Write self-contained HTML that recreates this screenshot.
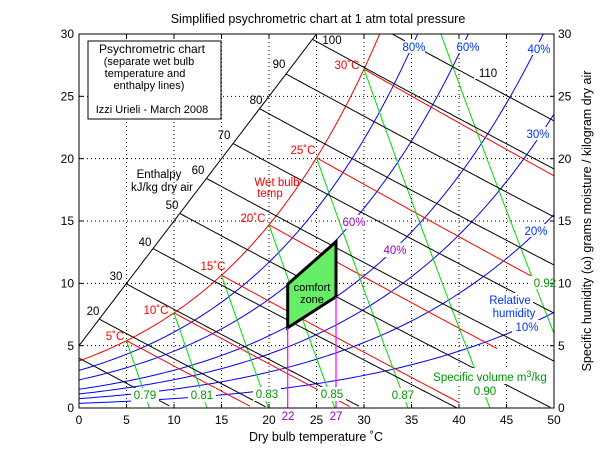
<!DOCTYPE html>
<html><head><meta charset="utf-8"><style>
html,body{margin:0;padding:0;background:#fff;}
svg{display:block;font-family:"Liberation Sans",sans-serif;}
</style></head><body>
<svg id="s" width="615" height="461" viewBox="0 0 615 461" xmlns="http://www.w3.org/2000/svg">
<rect width="615" height="461" fill="#fff"/>
<defs><clipPath id="c"><rect x="79" y="34" width="475" height="374"/></clipPath></defs>
<g id="grid" stroke="#000" stroke-width="1" stroke-dasharray="1,3"></g>
<g id="lines" clip-path="url(#c)" fill="none"></g>
<polygon points="287.7,284.3 336,241.7 336,296.7 287.7,327.7" fill="#66ee66" stroke="#000" stroke-width="3"/>
<line x1="287.7" y1="328" x2="287.7" y2="408" stroke="#ff00ff" stroke-width="1.2"/>
<line x1="336" y1="297" x2="336" y2="408" stroke="#ff00ff" stroke-width="1.2"/>
<g id="bg" fill="#fff"></g>
<rect x="79" y="34" width="475" height="374" fill="none" stroke="#000" stroke-width="1"/>
<g id="ticks" stroke="#000"></g>
<g font-size="12" fill="#000" text-anchor="middle">
<text x="79" y="424">0</text><text x="126.5" y="424">5</text><text x="174" y="424">10</text><text x="221.5" y="424">15</text><text x="269" y="424">20</text><text x="316.5" y="424">25</text><text x="364" y="424">30</text><text x="411.5" y="424">35</text><text x="459" y="424">40</text><text x="506.5" y="424">45</text><text x="554" y="424">50</text>
</g>
<g font-size="12" fill="#000" text-anchor="end">
<text x="74" y="412">0</text><text x="74" y="350">5</text><text x="74" y="287.5">10</text><text x="74" y="225">15</text><text x="74" y="163">20</text><text x="74" y="100.5">25</text><text x="74" y="38">30</text>
</g>
<g font-size="12" fill="#000">
<text x="558" y="412">0</text><text x="558" y="350">5</text><text x="558" y="287.5">10</text><text x="558" y="225">15</text><text x="558" y="163">20</text><text x="558" y="100.5">25</text><text x="558" y="38">30</text>
</g>
<text x="318" y="23" font-size="12.5" text-anchor="middle">Simplified psychrometric chart at 1 atm total pressure</text>
<text x="316" y="441" font-size="12.5" text-anchor="middle">Dry bulb temperature ˚C</text>
<text transform="translate(591,221) rotate(-90)" font-size="12.5" text-anchor="middle">Specific humidity (ω) grams moisture / kilogram dry air</text>
<rect x="88" y="41" width="133" height="78" fill="#fff" stroke="#000"/>
<g font-size="11" text-anchor="middle">
<text x="152" y="53" font-size="12">Psychrometric chart</text>
<text x="149" y="65">(separate wet bulb</text>
<text x="145" y="77">temperature and</text>
<text x="149" y="89">enthalpy lines)</text>
<text x="152" y="113">Izzi Urieli - March 2008</text>
</g>
<g font-size="11.5" fill="#000" text-anchor="middle">
<text x="332" y="44">100</text><text x="279" y="68">90</text><text x="256" y="104">80</text><text x="224" y="139">70</text><text x="198" y="174">60</text><text x="172" y="209">50</text><text x="145" y="246">40</text><text x="116" y="280">30</text><text x="93" y="315">20</text><text x="488" y="77">110</text>
<text x="159" y="178">Enthalpy</text><text x="162" y="191">kJ/kg dry air</text>
<text x="312" y="291" font-size="11">comfort</text><text x="312" y="303" font-size="11">zone</text>
</g>
<g font-size="11.5" fill="#ff0000" text-anchor="middle">
<text x="347" y="69">30˚C</text><text x="303" y="154">25˚C</text><text x="277" y="186">Wet bulb</text><text x="270" y="197">temp</text><text x="253" y="222">20˚C</text><text x="213" y="270">15˚C</text><text x="156" y="314">10˚C</text><text x="115" y="340">5˚C</text>
</g>
<g font-size="11.5" fill="#009900" text-anchor="middle">
<text x="145" y="399">0.79</text><text x="202" y="399">0.81</text><text x="267" y="398">0.83</text><text x="332" y="398">0.85</text><text x="403" y="399">0.87</text><text x="485" y="395">0.90</text><text x="545" y="287">0.92</text>
<text x="490" y="381">Specific volume m<tspan font-size="9" dy="-4">3</tspan><tspan dy="4">/kg</tspan></text>
</g>
<g font-size="11.5" fill="#0033ff" text-anchor="middle">
<text x="414" y="51">80%</text><text x="468" y="51">60%</text><text x="539" y="53">40%</text><text x="538" y="138">30%</text><text x="536" y="235">20%</text><text x="527" y="331">10%</text>
<text x="510" y="304">Relative</text><text x="514" y="317">humidity</text>
</g>
<g font-size="11.5" fill="#9900cc" text-anchor="middle">
<text x="354" y="226">60%</text><text x="395" y="254">40%</text><text x="288" y="420">22</text><text x="336" y="420">27</text>
</g>
</svg>
<script>
(function(){
var NS="http://www.w3.org/2000/svg";
function X(T){return 79+9.5*T;} function Y(w){return 408-12.467*w;}
function ps(T){return 0.61078*Math.exp(17.27*T/(T+237.3));}
function wrh(T,p){var P=ps(T)*p;return 622*P/(101.325-P);}
var L=document.getElementById('lines'),G=document.getElementById('grid'),K=document.getElementById('ticks'),B=document.getElementById('bg');
function path(pts,col,wd){var d="";pts.forEach(function(p,i){d+=(i?"L":"M")+X(p[0]).toFixed(2)+","+Y(p[1]).toFixed(2);});
var e=document.createElementNS(NS,'path');e.setAttribute('d',d);e.setAttribute('stroke',col);e.setAttribute('stroke-width',wd||1);L.appendChild(e);}
function ln(x1,y1,x2,y2,par){var e=document.createElementNS(NS,'line');e.setAttribute('x1',x1);e.setAttribute('y1',y1);e.setAttribute('x2',x2);e.setAttribute('y2',y2);par.appendChild(e);}
for(var t=5;t<50;t+=5)ln(X(t),34,X(t),408,G);
for(var w=5;w<30;w+=5)ln(79,Y(w),554,Y(w),G);
for(var t=0;t<=50;t+=5){ln(X(t),408,X(t),404,K);ln(X(t),34,X(t),38,K);}
for(var w=0;w<=30;w+=5){ln(79,Y(w),83,Y(w),K);ln(554,Y(w),550,Y(w),K);}
[10,20,30,40,60,80].forEach(function(r){var a=[];for(var T=0;T<=50.01;T+=0.5)a.push([T,wrh(T,r/100)]);path(a,'#0000ff');});
var a=[];for(var T=-1;T<=34;T+=0.25)a.push([T,wrh(T,1)]);path(a,'#ff0000');
var tend={5:99,10:99,15:40,20:44,25:48,30:99};
[5,10,15,20,25,30].forEach(function(tw){var ws=wrh(tw,1)/1000,a=[];for(var T=tw;T<=Math.min(55,tend[tw]);T+=0.5){var w=((2501-2.326*tw)*ws-1.006*(T-tw))/(2501+1.86*T-4.186*tw);if(w<0)break;a.push([T,w*1000]);}path(a,'#ff0000');});
[5,10,15,20,25,30,35].forEach(function(ts){var ws=wrh(ts,1);var v=0.287*(ts+273.15)*(1+1.6078*ws/1000)/101.325;var a=[];for(var w=ws;w>=-0.01;w-=0.5){var T=v*101.325/(0.287*(1+1.6078*Math.max(w,0)/1000))-273.15;a.push([T,Math.max(w,0)]);}var T0=v*101.325/0.287-273.15;a.push([T0,0]);path(a,'#00dd00');});
path([[0,5],[25,30]],'#000');
for(var h=10;h<=110;h+=10){var T0=0;for(var T=0;T<40;T+=0.01){if(1.005*T+(T+5)/1000*(2501+1.86*T)>=h){T0=T;break;}}
 if(h==10)T0=0;var a=[];for(var T=T0;T<=52;T+=0.5){var w=(h-1.005*T)/(2.501+0.00186*T);if(w<0)break;a.push([T,w]);}path(a,'#000');}
[[474,64,30,15],[405,40,20,13],[459,40,22,13],[530,42,20,13],[526,127,22,13],[524,224,24,13],[512,320,28,13],[425,368,132,16],[470,384,30,13],[530,276,30,13],[487,293,46,28],
 [131,388,28,14],[188,388,28,14],[253,387,28,14],[318,387,28,14],[389,388,28,14],[342,215,24,14],[383,243,24,14]].forEach(function(r){var e=document.createElementNS(NS,'rect');e.setAttribute('x',r[0]);e.setAttribute('y',r[1]);e.setAttribute('width',r[2]);e.setAttribute('height',r[3]);B.appendChild(e);});
})();
</script>
</body></html>
